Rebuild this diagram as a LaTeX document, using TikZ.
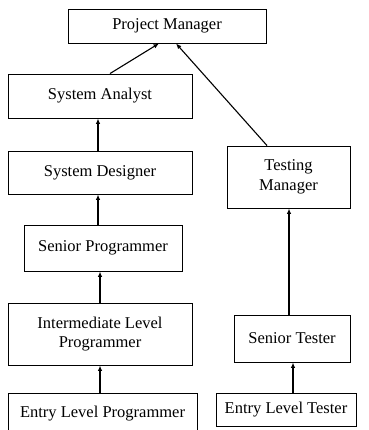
\documentclass[tikz,border=0pt]{standalone}
\usepackage{fontspec}
\setmainfont{Liberation Serif}
\usetikzlibrary{arrows.meta}
\begin{document}
\begin{tikzpicture}[x=1pt, y=-1pt,
    role/.style={draw, line width=0.9pt, inner sep=0pt, align=center,
        font=\fontsize{16.5}{19.5}\selectfont},
    up/.style={-{Latex[length=5.5pt,width=4.5pt]}, line width=1.1pt}]
    \useasboundingbox (0,0) rectangle (368,430);

    % Programmer line
    \node[role, minimum width=198pt, minimum height=34pt] (pm) at (167,26) {Project Manager};
    \node[role, minimum width=184pt, minimum height=44pt] (sa) at (100,96) {System Analyst};
    \node[role, minimum width=184pt, minimum height=43pt] (sd) at (100,172.5) {System Designer};
    \node[role, minimum width=158pt, minimum height=46pt] (sp) at (103,248) {Senior Programmer};
    \node[role, minimum width=184pt, minimum height=62pt] (ilp) at (100,334) {Intermediate Level\\Programmer};
    \node[role, minimum width=189pt, minimum height=42pt] (elp) at (102.5,414) {Entry Level Programmer};

    % Tester line
    \node[role, minimum width=123pt, minimum height=62pt] (tm) at (288.5,177) {Testing\\Manager};
    \node[role, minimum width=116pt, minimum height=47pt] (st) at (292,338.5) {Senior Tester};
    \node[role, minimum width=140pt, minimum height=33pt] (elt) at (286,409.5) {Entry Level Tester};

    % Reporting arrows
    \draw[up] ([xshift=10pt]sa.north) -- ([xshift=-8pt]pm.south);
    \draw[up] ([xshift=-21.5pt]tm.north) -- ([xshift=9pt]pm.south);
    \draw[up] ([xshift=-2pt]sd.north) -- ([xshift=-2pt]sa.south);
    \draw[up] ([xshift=-5pt]sp.north) -- ([xshift=-2pt]sd.south);
    \draw[up] (ilp.north) -- ([xshift=-3pt]sp.south);
    \draw[up] ([xshift=-2.5pt]elp.north) -- (ilp.south);
    \draw[up] ([xshift=-3pt]st.north) -- ([xshift=0.5pt]tm.south);
    \draw[up] ([xshift=7pt]elt.north) -- ([xshift=1pt]st.south);
\end{tikzpicture}
\end{document}
